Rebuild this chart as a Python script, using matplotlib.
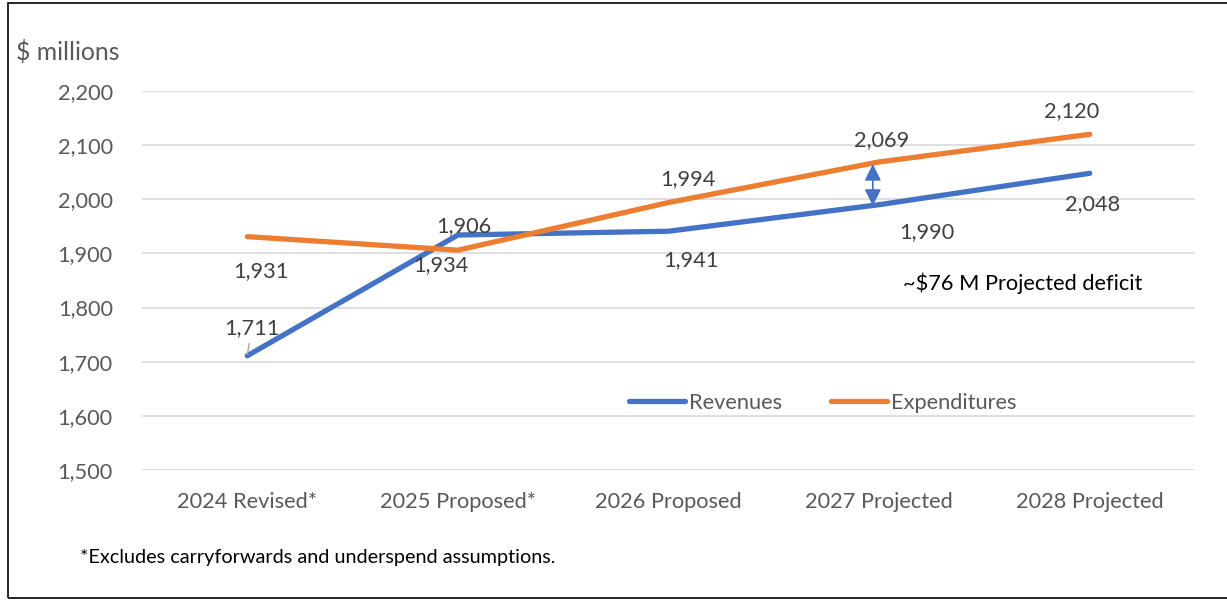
import matplotlib
matplotlib.use("Agg")
import matplotlib.pyplot as plt
from matplotlib.patches import Rectangle

# data
categories = ["2024 Revised*", "2025 Proposed*", "2026 Proposed", "2027 Projected", "2028 Projected"]
revenues = [1711, 1934, 1941, 1990, 2048]
expenditures = [1931, 1906, 1994, 2069, 2120]
y_ticks = [1500, 1600, 1700, 1800, 1900, 2000, 2100, 2200]

# label offsets in points (Excel put some of them in odd places)
rev_offsets = [(3, 20), (-12, -22), (16, -21), (34, -20), (2, -22)]
exp_offsets = [(10, -25), (4, 17), (14, 17), (2, 16), (-13, 17)]

BLUE = "#4472C4"
ORANGE = "#ED7D31"
GRID = "#D9D9D9"
TICK = "#595959"
LABEL = "#404040"
FS = 15.7

plt.rcParams["font.family"] = ["Lato", "DejaVu Sans"]

fig = plt.figure(figsize=(12.27, 6.01), dpi=100)
ax = fig.add_axes([0.1157, 0.218, 0.974 - 0.1157, 0.8486 - 0.218])

x = list(range(len(categories)))
ax.plot(x, revenues, color=BLUE, lw=3.8, solid_capstyle="round", label="Revenues", zorder=3)
ax.plot(x, expenditures, color=ORANGE, lw=3.8, solid_capstyle="round", label="Expenditures", zorder=3)

ax.set_xlim(-0.5, len(categories) - 0.5)
ax.set_ylim(y_ticks[0], y_ticks[-1])
ax.set_yticks(y_ticks)
ax.set_yticklabels([f"{v:,}" for v in y_ticks])
ax.set_xticks(x)
ax.set_xticklabels(categories)
ax.tick_params(axis="both", length=0, labelsize=FS, colors=TICK)
ax.tick_params(axis="y", pad=21)
ax.tick_params(axis="x", pad=16)
ax.grid(axis="y", color=GRID, lw=1.2)
ax.set_axisbelow(True)
for s in ax.spines.values():
    s.set_visible(False)

# data labels
for i, (v, off) in enumerate(zip(revenues, rev_offsets)):
    kw = {}
    if i == 0:
        kw = dict(arrowprops=dict(arrowstyle="-", color="#A6A6A6", lw=1, shrinkA=2, shrinkB=1))
    ax.annotate(f"{v:,}", xy=(i, v), xytext=off, textcoords="offset points",
                ha="center", va="center", fontsize=FS, color=LABEL, **kw)
for i, (v, off) in enumerate(zip(expenditures, exp_offsets)):
    ax.annotate(f"{v:,}", xy=(i, v), xytext=off, textcoords="offset points",
                ha="center", va="center", fontsize=FS, color=LABEL)

# deficit arrow at 2027
ax.annotate("", xy=(3 - 0.03, expenditures[3] - 4), xytext=(3 - 0.03, revenues[3] - 2),
            arrowprops=dict(arrowstyle="<|-|>,head_length=1.0,head_width=0.5",
                            color=BLUE, lw=1.2, shrinkA=0, shrinkB=0), zorder=4)
fig.text(903 / 1227, 1 - 283 / 601, "~$76 M Projected deficit", fontsize=FS,
         color="black", ha="left", va="center")

leg = ax.legend(loc="center", bbox_to_anchor=(823 / 1227, 1 - 403 / 601),
                bbox_transform=fig.transFigure, ncol=2, frameon=False,
                fontsize=FS, handlelength=2.57, handletextpad=0.18, columnspacing=2.25)
for t in leg.get_texts():
    t.set_color(TICK)
for h in leg.get_lines():
    h.set_solid_capstyle("round")

fig.text(16 / 1227, 1 - 52 / 601, "$ millions", fontsize=17.8, color=TICK, ha="left", va="center")
fig.text(80 / 1227, 1 - 557 / 601, "*Excludes carryforwards and underspend assumptions.",
         fontsize=14.3, color="black", ha="left", va="center")

# outer frame
fig.patches.append(Rectangle((8 / 1227, 3 / 601), 1.2, 1 - 6 / 601, transform=fig.transFigure,
                             fill=False, edgecolor="black", lw=1.2))

fig.savefig("out.png", dpi=100)
